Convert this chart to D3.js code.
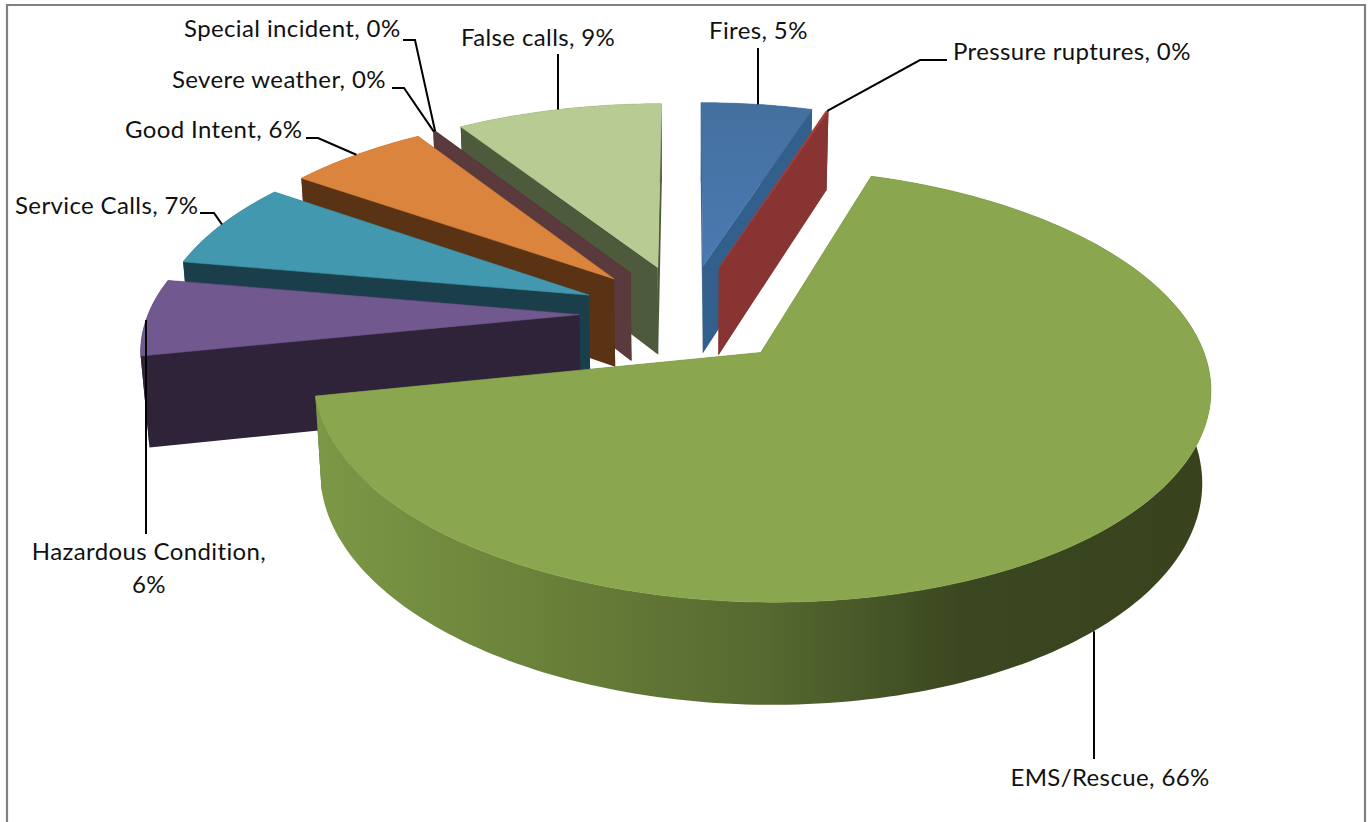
<!DOCTYPE html>
<html><head><meta charset="utf-8">
<style>html,body{margin:0;padding:0;background:#fff;overflow:hidden}svg{display:block}text{font-family:Lato,"Open Sans",sans-serif;font-size:24px;letter-spacing:.38px;fill:#111}</style>
<script src="https://cdn.jsdelivr.net/npm/d3@7/dist/d3.min.js"></script>
</head><body>
<svg id="c" width="1368" height="822"></svg>
<script>
const categories=["Fires","Pressure ruptures","EMS/Rescue","Hazardous Condition","Service Calls","Good Intent","Severe weather","Special incident","False calls"];
const values=[4.9,0.1,66.8,6.0,6.9,6.15,0.05,0.05,9.05];
const percentLabels=["5%","0%","66%","6%","7%","6%","0%","0%","9%"];
const topColors=["#4674a8","#a5403c","#8aa64e","#71588f","#4198af","#db843d","#5a3a3d","#5a3a3d","#b8cb93"];
const wallColors=["#335f8d","#873433","#4a5a28","#2e2339","#1b3f4a","#5a3315","#5a3a3d","#5a3a3d","#4e5a3c"];
const drawOrder=[0,1,8,7,6,5,4,3,2];
// label anchor point and leader elbow (layout only)
const labelLayout=[
 {x:709,y:39,a:"start",from:[758,48],via:[],vertical:true},
 {x:953,y:60,a:"start",from:[947,60],via:[[920,60]],frac:0.5},
 {x:1110,y:786,a:"middle",from:[1094,759],via:[],vertical:true,z:1},
 {x:149,y:560,a:"middle",from:[146,534],via:[],vertical:true,wrap:true},
 {x:15,y:214,a:"start",from:[200,213],via:[[214,213]],frac:0.5},
 {x:125,y:138,a:"start",from:[306,138],via:[[318,138]],frac:0.5},
 {x:172,y:88,a:"start",from:[392,88],via:[[404,88]],frac:0.5},
 {x:184,y:37,a:"start",from:[403,40],via:[[415,40]],frac:0.5},
 {x:461,y:46,a:"start",from:[558,54],via:[],vertical:true}
];

const explode=0.25,cx=687,cy=314,A=431,B=200.5,p=0.147,D=91,q=0.016;
function project(u,v,z){const w=1-p*v+q*z;return [cx+A*u/w,cy+(B*v+D*z)/w];}
const pie=d3.pie().sort(null).value(d=>d).startAngle(0).endAngle(2*Math.PI);
const arcs=pie(values);
const svg=d3.select("#c");
const line=d3.line();
const defs=svg.append("defs");
const g=defs.append("linearGradient").attr("id","wall").attr("gradientUnits","userSpaceOnUse").attr("x1",320).attr("x2",1210).attr("y1",0).attr("y2",0);
[[0,"#7b9846"],[0.25,"#6a8139"],[0.5,"#566930"],[0.72,"#3b4720"],[1,"#38431d"]].forEach(s=>g.append("stop").attr("offset",s[0]).attr("stop-color",s[1]));
const blueG=defs.append("linearGradient").attr("id","top0").attr("x1",0).attr("x2",0).attr("y1",0).attr("y2",1);
blueG.append("stop").attr("offset",0).attr("stop-color","#44709f");blueG.append("stop").attr("offset",1).attr("stop-color","#4a7ab2");

svg.append("path").attr("d",line([[7,830],[7,5],[1365,5],[1365,830]])).attr("fill","none").attr("stroke","#808080").attr("stroke-width",2.2);

function geom(i){
  const a=arcs[i],mid=(a.startAngle+a.endAngle)/2;
  const ou=Math.sin(mid)*explode,ov=-Math.cos(mid)*explode;
  const pt=(ang,r,z)=>project(ou+r*Math.sin(ang),ov-r*Math.cos(ang),z);
  const n=Math.max(2,Math.ceil((a.endAngle-a.startAngle)/0.02));
  const angs=d3.range(n+1).map(k=>a.startAngle+(a.endAngle-a.startAngle)*k/n);
  return {a,pt,angs};
}
drawOrder.forEach(i=>{
  const {a,pt,angs}=geom(i);
  const gr=svg.append("g");
  const wall=i===2?"url(#wall)":wallColors[i];
  const quad=ang=>[pt(ang,0,0),pt(ang,1,0),pt(ang,1,1),pt(ang,0,1)];
  gr.append("path").attr("d",line(quad(a.startAngle))+"Z").attr("fill",wallColors[i]);
  gr.append("path").attr("d",line(quad(a.endAngle))+"Z").attr("fill",wallColors[i]);
  const outer=angs.map(t=>pt(t,1,0)).concat(angs.slice().reverse().map(t=>pt(t,1,1)));
  gr.append("path").attr("d",line(outer)+"Z").attr("fill",wall);
  const top=[pt(0,0,0)].concat(angs.map(t=>pt(t,1,0)));
  gr.append("path").attr("d",line(top)+"Z").attr("fill",i===0?"url(#top0)":topColors[i]).attr("stroke",topColors[i]).attr("stroke-width",0.6);
});
labelLayout.forEach((l,i)=>{
  const {a,pt}=geom(i);
  const z=l.z||0;
  let end;
  if(l.vertical){
    const fine=d3.range(801).map(k=>a.startAngle+(a.endAngle-a.startAngle)*k/800).map(t=>pt(t,1,z)).filter(e=>z===0||e[1]>400);
    const near=d3.least(fine,e=>Math.abs(e[0]-l.from[0]));
    end=[l.from[0],near[1]];
  } else {
    end=pt(a.startAngle+(a.endAngle-a.startAngle)*l.frac,1,0);
  }
  svg.append("path").attr("d",line([l.from,...l.via,end])).attr("fill","none").attr("stroke","#000").attr("stroke-width",2);
  const tx=svg.append("text").attr("text-anchor",l.a);
  const lines=l.wrap?[categories[i]+",",percentLabels[i]]:[categories[i]+", "+percentLabels[i]];
  lines.forEach((s,k)=>tx.append("tspan").attr("x",l.x).attr("y",l.y+k*33).text(s));
});
</script>
</body></html>
